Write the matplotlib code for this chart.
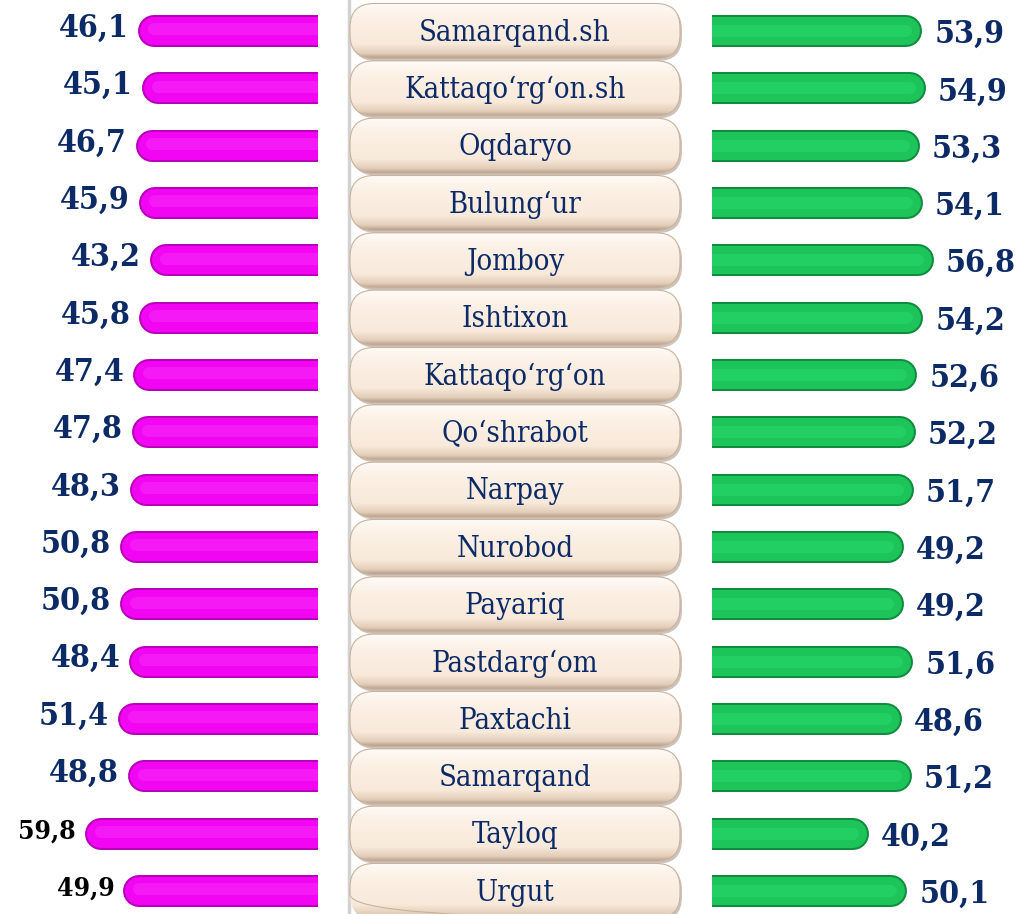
import matplotlib
matplotlib.use('Agg')
import matplotlib.pyplot as plt
from matplotlib.patches import FancyBboxPatch
import numpy as np

# district names (centre boxes)
districts = ["Samarqand.sh", "Kattaqo\u2018rg\u2018on.sh", "Oqdaryo", "Bulung\u2018ur",
             "Jomboy", "Ishtixon", "Kattaqo\u2018rg\u2018on", "Qo\u2018shrabot", "Narpay",
             "Nurobod", "Payariq", "Pastdarg\u2018om", "Paxtachi", "Samarqand",
             "Tayloq", "Urgut"]
# left (magenta) and right (green) shares, %
left_vals = [46.1, 45.1, 46.7, 45.9, 43.2, 45.8, 47.4, 47.8, 48.3, 50.8,
             50.8, 48.4, 51.4, 48.8, 59.8, 49.9]
right_vals = [53.9, 54.9, 53.3, 54.1, 56.8, 54.2, 52.6, 52.2, 51.7, 49.2,
              49.2, 51.6, 48.6, 51.2, 40.2, 50.1]

W, H = 1035, 914
DPI = 100
PX = 3.9            # pixels per percent
ROW0, STEP = 31, 57.33
n = len(districts)
ylim = ((H - ROW0) / STEP, -ROW0 / STEP)

NAVY = '#0c2a66'
fig = plt.figure(figsize=(W / DPI, H / DPI), dpi=DPI)
fig.patch.set_facecolor('white')

# ---- centre column: vertical rule + rounded beige boxes
axc = fig.add_axes([0, 0, 1, 1])
axc.set_xlim(0, W)
axc.set_ylim(*ylim)
axc.axis('off')
axc.plot([349, 349], [ylim[1], ylim[0]], color='#d2d2d2', lw=2.5, zorder=0)
grad = np.linspace(0, 1, 100).reshape(-1, 1)
cmap = matplotlib.colors.LinearSegmentedColormap.from_list(
    'beige', [(0, '#fffbf7'), (0.25, '#fcf1e6'), (0.75, '#f8e9da'), (0.92, '#e2cdb8'), (1, '#b9a390')])
bw, bh = 330, 55 / STEP
for i, name in enumerate(districts):
    shadow = FancyBboxPatch((352, i - bh / 2 + 2.5 / STEP), bw, bh,
                            boxstyle="round,pad=0,rounding_size=24",
                            mutation_aspect=1 / STEP, fc='#9c8878', ec='none',
                            alpha=0.5, zorder=1)
    axc.add_patch(shadow)
    box = FancyBboxPatch((350, i - bh / 2), bw, bh,
                         boxstyle="round,pad=0,rounding_size=24",
                         mutation_aspect=1 / STEP, fc='none', ec='#c9b29c',
                         lw=0.8, zorder=3)
    axc.add_patch(box)
    im = axc.imshow(grad, cmap=cmap, aspect='auto', zorder=2,
                    extent=(350, 350 + bw, i + bh / 2, i - bh / 2))
    im.set_clip_path(box)
    axc.text(515, i + 0.03, name, ha='center', va='center', fontsize=21,
             color=NAVY, family='DejaVu Serif', fontstretch='condensed', zorder=4)

lw_out = 32 * 72 / DPI
lw_mid = 28 * 72 / DPI
lw_hi = 12 * 72 / DPI
cap = 16 / PX

# ---- left magenta bars (axis runs right-to-left)
axl = fig.add_axes([0, 0, 318 / W, 1])
axl.set_xlim(318 / PX, 0)
axl.set_ylim(*ylim)
axl.axis('off')
for i, v in enumerate(left_vals):
    axl.hlines(i, -5, v - cap, color='#b800b8', lw=lw_out, capstyle='round')
    axl.hlines(i, -5, v - cap, color='#f205f2', lw=lw_mid, capstyle='round')
    axl.hlines(i - 0.03, -5, v - cap, color='#ff4dff', lw=lw_hi, capstyle='round', alpha=0.3)
    black = i >= n - 2
    axl.text(v + 9 / PX, i - 0.05, f"{v:.1f}".replace('.', ','), ha='right', va='center',
             fontsize=19 if black else 23, fontweight='bold',
             color='black' if black else NAVY,
             family='DejaVu Serif', fontstretch='condensed', clip_on=False)

# ---- right green bars
axr = fig.add_axes([712 / W, 0, (W - 712) / W, 1])
axr.set_xlim(0, (W - 712) / PX)
axr.set_ylim(*ylim)
axr.axis('off')
for i, v in enumerate(right_vals):
    axr.hlines(i, -5, v - cap, color='#108c3e', lw=lw_out, capstyle='round')
    axr.hlines(i, -5, v - cap, color='#1dc459', lw=lw_mid, capstyle='round')
    axr.hlines(i, -5, v - cap, color='#2ae070', lw=lw_hi, capstyle='round', alpha=0.4)
    axr.text(v + 12 / PX, i + 0.06, f"{v:.1f}".replace('.', ','), ha='left', va='center',
             fontsize=23, fontweight='bold', color=NAVY,
             family='DejaVu Serif', fontstretch='condensed', clip_on=False)

fig.savefig('out.png', dpi=DPI, facecolor='white')
